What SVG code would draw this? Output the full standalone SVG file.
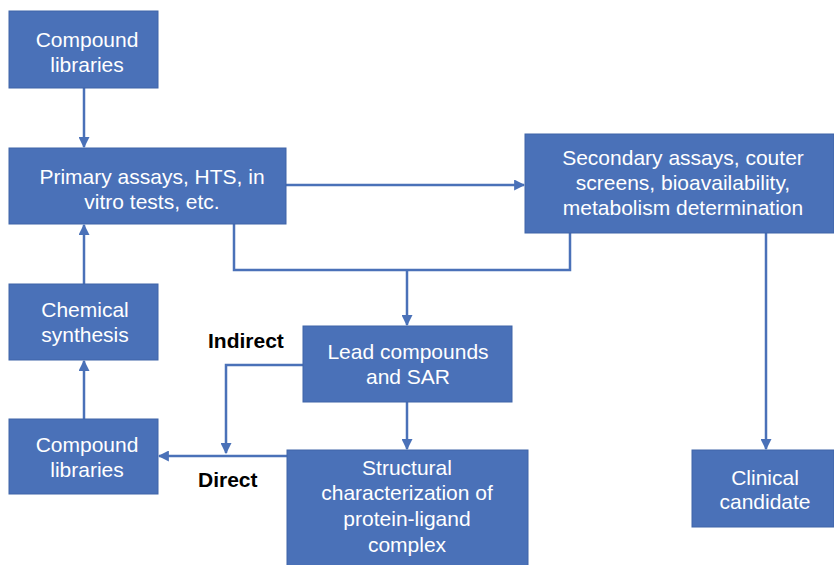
<svg xmlns="http://www.w3.org/2000/svg" width="834" height="565" viewBox="0 0 834 565">
  <style>
    .box { fill: #4a71b8; stroke: #3f65a8; stroke-width: 1; }
    .t { fill: #ffffff; font-family: "Liberation Sans", Arial, sans-serif; font-size: 21px; text-anchor: middle; }
    .lbl { fill: #000000; font-family: "Liberation Sans", Arial, sans-serif; font-size: 21px; font-weight: bold; }
    .ln { fill: none; stroke: #4a71b8; stroke-width: 2.5; }
  </style>
  <defs>
    <marker id="ah" viewBox="0 0 10 10" refX="9" refY="5" markerWidth="4.4" markerHeight="4.4" orient="auto" markerUnits="strokeWidth">
      <path d="M0,0 L10,5 L0,10 z" fill="#4a71b8"/>
    </marker>
  </defs>

  <g id="connectors">
    <line class="ln" x1="84" y1="88" x2="84" y2="147" marker-end="url(#ah)"/>
    <line class="ln" x1="286" y1="185" x2="524" y2="185" marker-end="url(#ah)"/>
    <polyline class="ln" points="234,224 234,270 570,270 570,233"/>
    <line class="ln" x1="407" y1="270" x2="407" y2="325" marker-end="url(#ah)"/>
    <line class="ln" x1="84" y1="284" x2="84" y2="225" marker-end="url(#ah)"/>
    <line class="ln" x1="84" y1="419" x2="84" y2="361" marker-end="url(#ah)"/>
    <line class="ln" x1="407" y1="402" x2="407" y2="449" marker-end="url(#ah)"/>
    <polyline class="ln" points="303,365 226,365 226,453" marker-end="url(#ah)"/>
    <line class="ln" x1="287" y1="456" x2="159" y2="456" marker-end="url(#ah)"/>
    <line class="ln" x1="766" y1="233" x2="766" y2="449" marker-end="url(#ah)"/>
  </g>

  <g id="compound-libraries-top">
    <rect class="box" x="9" y="11" width="149" height="77"/>
    <text class="t" x="87" y="47">Compound</text>
    <text class="t" x="87" y="72">libraries</text>
  </g>
  <g id="primary-assays">
    <rect class="box" x="9" y="148" width="277" height="76"/>
    <text class="t" x="152" y="184">Primary assays, HTS, in</text>
    <text class="t" x="152" y="209">vitro tests, etc.</text>
  </g>
  <g id="secondary-assays">
    <rect class="box" x="525" y="134" width="309" height="99"/>
    <text class="t" x="683" y="165">Secondary assays, couter</text>
    <text class="t" x="683" y="190">screens, bioavailability,</text>
    <text class="t" x="683" y="215">metabolism determination</text>
  </g>
  <g id="chemical-synthesis">
    <rect class="box" x="9" y="284" width="149" height="76"/>
    <text class="t" x="85" y="317">Chemical</text>
    <text class="t" x="85" y="342">synthesis</text>
  </g>
  <g id="compound-libraries-bottom">
    <rect class="box" x="9" y="419" width="149" height="75"/>
    <text class="t" x="87" y="452">Compound</text>
    <text class="t" x="87" y="477">libraries</text>
  </g>
  <g id="lead-compounds">
    <rect class="box" x="303" y="326" width="209" height="76"/>
    <text class="t" x="408" y="359">Lead compounds</text>
    <text class="t" x="408" y="384">and SAR</text>
  </g>
  <g id="structural-characterization">
    <rect class="box" x="287" y="450" width="241" height="120"/>
    <text class="t" x="407" y="475">Structural</text>
    <text class="t" x="407" y="500">characterization of</text>
    <text class="t" x="407" y="526">protein-ligand</text>
    <text class="t" x="407" y="552">complex</text>
  </g>
  <g id="clinical-candidate">
    <rect class="box" x="692" y="450" width="142" height="77"/>
    <text class="t" x="765" y="485">Clinical</text>
    <text class="t" x="765" y="509">candidate</text>
  </g>

  <g id="labels">
    <text class="lbl" x="208" y="348">Indirect</text>
    <text class="lbl" x="198" y="487">Direct</text>
  </g>
</svg>
